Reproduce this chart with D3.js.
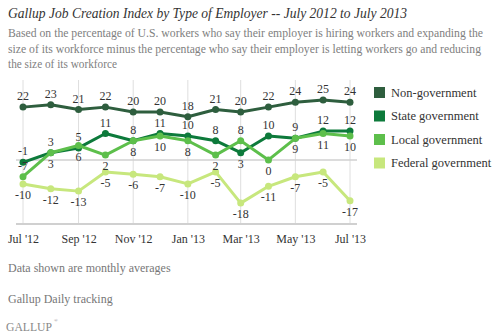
<!DOCTYPE html>
<html><head><meta charset="utf-8">
<script src="https://cdn.jsdelivr.net/npm/d3@7"></script>
<style>body{margin:0;background:#fff}svg{display:block}</style>
</head><body><svg id="c" width="500" height="335"></svg>
<script>
const months = ["2012-07","2012-08","2012-09","2012-10","2012-11","2012-12","2013-01","2013-02","2013-03","2013-04","2013-05","2013-06","2013-07"];
const tickLabels = ["Jul '12","Sep '12","Nov '12","Jan '13","Mar '13","May '13","Jul '13"];
const seriesNames = ["Non-government","State government","Local government","Federal government"];
const colors = ["#2e5e3e","#0d7a3b","#5dbf4b","#c7e77d"];
const nonGov = [22,23,21,22,20,20,18,21,20,22,24,25,24];
const stateGov = [-1,3,5,11,8,11,10,8,3,10,9,12,12];
const localGov = [-7,3,6,2,8,10,8,2,8,0,9,11,10];
const federalGov = [-10,-12,-13,-5,-6,-7,-10,-5,-18,-11,-7,-5,-17];
// label placement: 1 above, -1 below
const nonGovPos = [1,1,1,1,1,1,1,1,1,1,1,1,1];
const statePos = [1,1,1,1,1,1,1,1,-1,1,1,1,1];
const localPos = [1,-1,-1,-1,-1,-1,-1,-1,1,-1,-1,-1,-1];
const federalPos = [-1,-1,-1,-1,-1,-1,-1,-1,-1,-1,-1,-1,-1];

const series = [nonGov, stateGov, localGov, federalGov];
const positions = [nonGovPos, statePos, localPos, federalPos];
const parse = d3.timeParse("%Y-%m");
const dates = months.map(parse);

const svg = d3.select("#c");
const serif = "'Liberation Serif', 'Times New Roman', serif";

const x = d3.scaleTime().domain([dates[0], dates[12]]).range([23, 350]);
const y = d3.scaleLinear().domain([-26.7, 33.3]).range([224, 80]);

// title
svg.append("text").attr("x",8).attr("y",18).attr("font-family",serif).attr("font-style","italic")
  .attr("font-size",15).attr("fill","#333").attr("textLength",399).attr("lengthAdjust","spacingAndGlyphs")
  .text("Gallup Job Creation Index by Type of Employer -- July 2012 to July 2013");
const sub = ["Based on the percentage of U.S. workers who say their employer is hiring workers and expanding the",
 "size of its workforce minus the percentage who say their employer is letting workers go and reducing",
 "the size of its workforce"];
const subW = [475, 473, 109];
sub.forEach((s,i)=>{
  svg.append("text").attr("x",8).attr("y",37+i*15.5).attr("font-family",serif).attr("font-size",11.5)
    .attr("fill","#808080").attr("textLength",subW[i]).attr("lengthAdjust","spacingAndGlyphs").text(s);
});

// gridlines
const tickDates = dates.filter((d,i)=>i%2===0);
svg.append("g").selectAll("line").data(tickDates).join("line")
  .attr("x1",d=>x(d)).attr("x2",d=>x(d)).attr("y1",80).attr("y2",224)
  .attr("stroke","#dedede").attr("stroke-width",1);
svg.append("line").attr("x1",16).attr("x2",357).attr("y1",y(0)).attr("y2",y(0)).attr("stroke","#d0d0d0").attr("stroke-width",1.5);

// x axis
const xAxis = d3.axisBottom(x).tickValues(tickDates).tickSize(0).tickFormat((d,i)=>tickLabels[i]);
const gx = svg.append("g").attr("transform","translate(0,224)").call(xAxis);
gx.select(".domain").remove();
gx.selectAll("text").attr("font-family",serif).attr("font-size",12).attr("fill","#333").attr("dy",0).attr("y",19);
svg.append("line").attr("x1",16).attr("x2",357).attr("y1",224).attr("y2",224).attr("stroke","#d0d0d0").attr("stroke-width",2);

// lines
const line = d3.line().x((d,i)=>x(dates[i])).y(d=>y(d));
series.forEach((s,k)=>{
  svg.append("path").datum(s).attr("d",line).attr("fill","none").attr("stroke",colors[k]).attr("stroke-width",3).attr("stroke-linejoin","round");
  svg.append("g").selectAll("circle").data(s).join("circle")
    .attr("cx",(d,i)=>x(dates[i])).attr("cy",d=>y(d)).attr("r",3.5).attr("fill",colors[k]);
});
// labels
series.forEach((s,k)=>{
  svg.append("g").selectAll("text").data(s).join("text")
    .attr("x",(d,i)=>x(dates[i])).attr("y",(d,i)=>y(d) + (positions[k][i]>0 ? -7 : 15))
    .attr("text-anchor","middle").attr("font-family",serif).attr("font-size",12).attr("fill","#333")
    .text(d=>d);
});

// legend
const lg = svg.append("g");
seriesNames.forEach((n,k)=>{
  lg.append("rect").attr("x",374).attr("y",87+k*23.5).attr("width",11).attr("height",11).attr("fill",colors[k]);
  lg.append("text").attr("x",391).attr("y",96.5+k*23.5).attr("font-family",serif).attr("font-size",12.5).attr("fill","#333").text(n);
});

// footer
svg.append("text").attr("x",8).attr("y",272).attr("font-family",serif).attr("font-size",12).attr("fill","#777").text("Data shown are monthly averages");
svg.append("text").attr("x",8).attr("y",303).attr("font-family",serif).attr("font-size",12).attr("fill","#777").text("Gallup Daily tracking");
svg.append("text").attr("x",6).attr("y",331).attr("font-family",serif).attr("font-size",12.5).attr("fill","#888")
  .attr("textLength",46).attr("lengthAdjust","spacingAndGlyphs").text("GALLUP");
svg.append("text").attr("x",54).attr("y",322).attr("font-family",serif).attr("font-size",5).attr("fill","#888").text("®");
</script></body></html>
